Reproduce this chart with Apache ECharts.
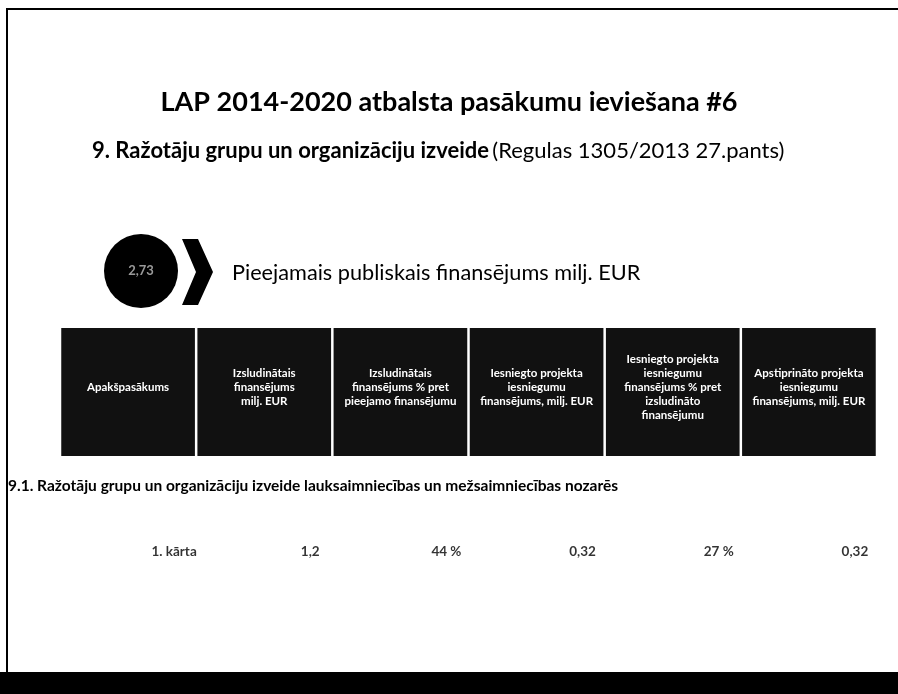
<!DOCTYPE html>
<html lang="lv">
<head>
    <meta charset="UTF-8">
    <title>LAP 2014-2020 atbalsta pasākumu ieviešana #6</title>
    <script src="https://cdn.jsdelivr.net/npm/echarts@6/dist/echarts.min.js"></script>
    <style>
        html, body { margin: 0; padding: 0; background: #fff; }
        #main { width: 898px; height: 694px; }
    </style>
</head>
<body>
<div id="main"></div>
<script type="text/javascript">

    var titleText = 'LAP 2014-2020 atbalsta pasākumu ieviešana #6';
    var measureBold = '9. Ražotāju grupu un organizāciju izveide';
    var measureNote = '(Regulas 1305/2013 27.pants)';
    var availableFunding = '2,73';
    var availableLabel = 'Pieejamais publiskais finansējums milj. EUR';

    var columns = [
        'Apakšpasākums',
        'Izsludinātais\nfinansējums\nmilj. EUR',
        'Izsludinātais\nfinansējums % pret\npieejamo finansējumu',
        'Iesniegto projekta\niesniegumu\nfinansējums, milj. EUR',
        'Iesniegto projekta\niesniegumu\nfinansējums % pret\nizsludināto\nfinansējumu',
        'Apstiprināto projekta\niesniegumu\nfinansējums, milj. EUR'
    ];
    var sectionTitle = '9.1. Ražotāju grupu un organizāciju izveide lauksaimniecības un mežsaimniecības nozarēs';
    var rowValues = ['1. kārta', '1,2', '44 %', '0,32', '27 %', '0,32'];

    var chart = echarts.init(document.getElementById('main'));

    var headerData = columns.map(function (c, i) { return [i, 0, c]; });
    var rowData = rowValues.map(function (v, i) { return [i, 1.75, v]; });

    var option = {
        backgroundColor: '#fff',
        animation: false,
        textStyle: { fontFamily: 'Lato' },
        grid: { left: 60, right: 21, top: 328, bottom: 110 },
        xAxis: {
            type: 'category',
            data: columns,
            show: false
        },
        yAxis: {
            type: 'value',
            min: 0,
            max: 2,
            inverse: true,
            show: false
        },
        graphic: [
            // slide frame
            { type: 'line', shape: { x1: 6, y1: 9, x2: 898, y2: 9 }, style: { stroke: '#000', lineWidth: 2 } },
            { type: 'line', shape: { x1: 7, y1: 9, x2: 7, y2: 673 }, style: { stroke: '#000', lineWidth: 2 } },
            { type: 'rect', shape: { x: 0, y: 672, width: 898, height: 22 }, style: { fill: '#000' } },
            {
                type: 'text', left: 'center', top: 89,
                style: { text: titleText, font: 'bold 27px Lato', fill: '#000' }
            },
            {
                type: 'text', x: 92, y: 151,
                style: {
                    text: '{b|' + measureBold + '} {n|' + measureNote + '}',
                    verticalAlign: 'middle',
                    rich: {
                        b: { font: 'bold 22px Lato', fill: '#000' },
                        n: { font: '22px Lato', fill: '#000' }
                    }
                }
            },
            { type: 'circle', shape: { cx: 141, cy: 271, r: 37 }, style: { fill: '#000' } },
            {
                type: 'text', x: 141, y: 271,
                style: { text: availableFunding, font: 'bold 13px Lato', fill: '#999', align: 'center', verticalAlign: 'middle' }
            },
            {
                type: 'polygon',
                shape: { points: [[182, 239], [198, 239], [213, 272], [198, 305], [182, 305], [196, 272]] },
                style: { fill: '#000' }
            },
            {
                type: 'text', x: 232, y: 273,
                style: { text: availableLabel, font: '21.7px Lato', fill: '#000', verticalAlign: 'middle' }
            },
            {
                type: 'text', x: 8, y: 486,
                style: { text: sectionTitle, font: 'bold 15.5px Lato', fill: '#000', verticalAlign: 'middle' }
            }
        ],
        series: [
            {
                type: 'custom',
                data: headerData,
                encode: { x: 0, y: 1 },
                renderItem: function (params, api) {
                    var top = api.coord([api.value(0), 0]);
                    var bottom = api.coord([api.value(0), 1]);
                    var w = api.size([1, 0])[0] - 2.5;
                    return {
                        type: 'group',
                        children: [
                            {
                                type: 'rect',
                                shape: { x: top[0] - w / 2, y: top[1], width: w, height: bottom[1] - top[1] },
                                style: { fill: '#111' }
                            },
                            {
                                type: 'text',
                                x: top[0], y: (top[1] + bottom[1]) / 2 - 5,
                                style: {
                                    text: columns[params.dataIndex],
                                    font: 'bold 11.5px Lato',
                                    lineHeight: 14,
                                    fill: '#fff',
                                    align: 'center',
                                    verticalAlign: 'middle'
                                }
                            }
                        ]
                    };
                }
            },
            {
                type: 'scatter',
                data: rowData,
                symbolSize: 0,
                clip: false,
                label: {
                    show: true,
                    position: 'inside',
                    offset: [46, 0],
                    formatter: function (p) { return p.value[2]; },
                    fontFamily: 'Lato',
                    fontWeight: 'bold',
                    fontSize: 13.5,
                    color: '#000'
                }
            }
        ]
    };

    chart.setOption(option);

</script>
</body>
</html>
